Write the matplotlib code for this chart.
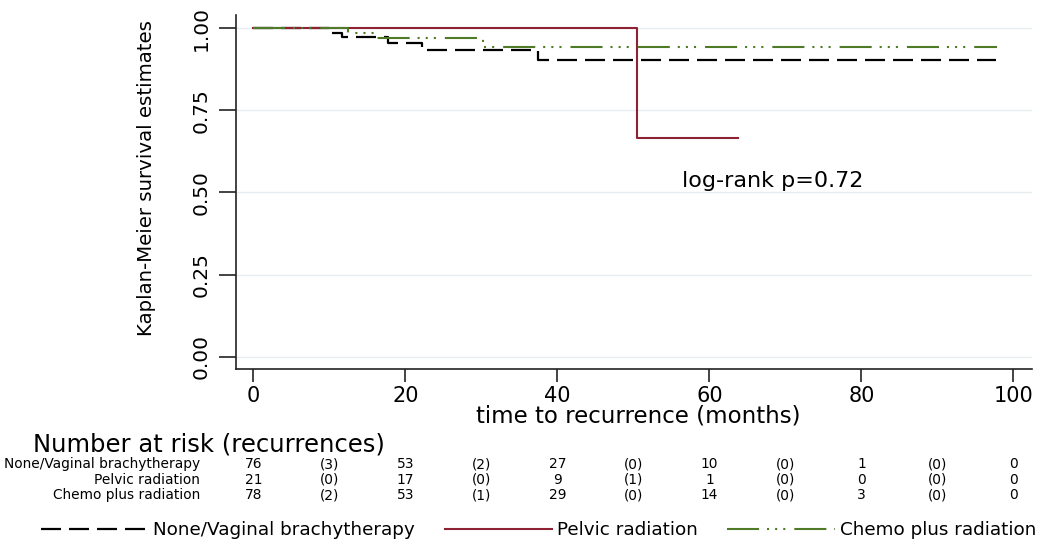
import matplotlib.pyplot as plt
from matplotlib.lines import Line2D
from matplotlib.transforms import blended_transform_factory

# curvas Kaplan-Meier (tiempo en meses, supervivencia)
none_t = [0, 10.4, 11.6, 17.7, 22.2, 37.4, 97.7]
none_s = [1.0, 0.987, 0.974, 0.954, 0.934, 0.903, 0.903]
pelvic_t = [0, 50.5, 63.8]
pelvic_s = [1.0, 0.667, 0.667]
chemo_t = [0, 12.4, 16.3, 30.2, 97.8]
chemo_s = [1.0, 0.986, 0.971, 0.944, 0.944]

# tabla de numero en riesgo
risk_times = [0, 20, 40, 60, 80, 100]
grupos = ['None/Vaginal brachytherapy', 'Pelvic radiation', 'Chemo plus radiation']
n_risk = [[76, 53, 27, 10, 1, 0],
          [21, 17, 9, 1, 0, 0],
          [78, 53, 29, 14, 3, 0]]
n_events = [[3, 2, 0, 0, 0],
            [0, 0, 1, 0, 0],
            [2, 1, 0, 0, 0]]

y_ticks = [0, 0.25, 0.5, 0.75, 1.0]
y_tick_labels = ['0.00', '0.25', '0.50', '0.75', '1.00']
x_ticks = [0, 20, 40, 60, 80, 100]

c_red = '#8E2233'
c_green = '#4F7A28'
ls_none = (0, (9, 3.6))
ls_chemo = (0, (15.4, 3.8, 1, 2.9, 1, 2.9, 1, 4.3))

fig = plt.figure(figsize=(10.5, 5.45), dpi=100)
ax = fig.add_axes([0.2248, 0.3224, 0.7578, 0.6501])

ax.step(none_t, none_s, where='post', color='black', lw=1.6, linestyle=ls_none)
ax.step(pelvic_t, pelvic_s, where='post', color=c_red, lw=1.5)
ax.step(chemo_t, chemo_s, where='post', color=c_green, lw=1.5, linestyle=ls_chemo)

ax.set_xlim(-2.28, 102.4)
ax.set_ylim(-0.0384, 1.0405)
ax.set_xticks(x_ticks)
ax.set_yticks(y_ticks)
ax.set_yticklabels(y_tick_labels)
ax.grid(axis='y', color='#E6EDF0', lw=1.0)
ax.set_axisbelow(True)

for s in ['top', 'right']:
    ax.spines[s].set_visible(False)
for s in ['left', 'bottom']:
    ax.spines[s].set_linewidth(1.2)
    ax.spines[s].set_color('#222222')

ax.tick_params(axis='x', length=9, width=1.2, labelsize=15, pad=3, color='#222222')
ax.tick_params(axis='y', length=12, width=1.2, labelsize=14.5, pad=6,
               labelrotation=90, color='#222222')
for lab in ax.get_yticklabels():
    lab.set_va('center')

ax.set_xlabel('time to recurrence (months)', fontsize=16.5, va='top')
ax.xaxis.set_label_coords(0.505, -0.1)
ax.set_ylabel('Kaplan-Meier survival estimates', fontsize=14.2)
ax.yaxis.set_label_coords(-0.10, 0.54)

ax.text(56.4, 0.518, 'log-rank p=0.72', fontsize=16, ha='left', va='baseline')

# numero en riesgo
tr = blended_transform_factory(ax.transData, fig.transFigure)
fig.text(33 / 1050, 0.1853, 'Number at risk (recurrences)', fontsize=17.5,
         ha='left', va='center')
row_y = [0.1404, 0.1128, 0.0835]
for g, y, nr, ne in zip(grupos, row_y, n_risk, n_events):
    fig.text(200 / 1050, y, g, fontsize=9.9, ha='right', va='baseline')
    for t, n in zip(risk_times, nr):
        ax.text(t, y, str(n), transform=tr, fontsize=9.9, ha='center', va='baseline')
    for i, e in enumerate(ne):
        t_mid = (risk_times[i] + risk_times[i + 1]) / 2
        ax.text(t_mid, y, f'({e})', transform=tr, fontsize=9.9, ha='center', va='baseline')

handles = [Line2D([], [], color='black', lw=1.6, linestyle=ls_none),
           Line2D([], [], color=c_red, lw=1.5),
           Line2D([], [], color=c_green, lw=1.5, linestyle=ls_chemo)]
fig.legend(handles, grupos, loc='center', bbox_to_anchor=(0.513, 0.0275), ncol=3,
           frameon=False, fontsize=13.2, handlelength=5.85, handletextpad=0.3,
           columnspacing=1.6)

fig.savefig('out.png', dpi=100)
